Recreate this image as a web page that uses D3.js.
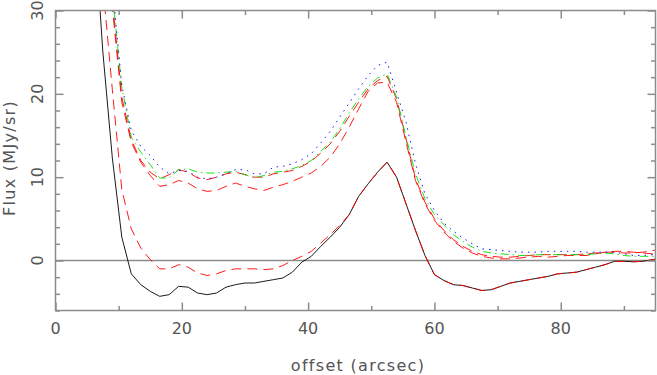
<!DOCTYPE html>
<html>
<head>
<meta charset="utf-8">
<script src="https://cdn.jsdelivr.net/npm/d3@7"></script>
<style>
  body { margin: 0; background: #fff; }
  text { font-family: "DejaVu Sans", sans-serif; fill: #555; }
</style>
</head>
<body>
<svg id="chartArea" width="657" height="375"></svg>
<script>
// offsets in arcsec (sample grid)
const offset = [6, 7.5, 9, 10.5, 12, 13.5, 15, 16.5, 18, 19.5, 21, 22.5, 24, 25.5, 27, 28.5, 30, 31.5, 33, 34.5,
  36, 37.5, 39, 40.5, 42, 43.5, 45, 46.5, 48, 49.5, 51, 52.5, 54, 55.5, 57, 58.5, 60, 61.5, 63, 64.5,
  66, 67.5, 69, 70.5, 72, 73.5, 75, 76.5, 78, 79.5, 81, 82.5, 84, 85.5, 87, 88.5, 90, 91.5, 93, 94.5, 96];

const fluxBlack = [42, 25, 12.3, 2.8, -1.6, -2.9, -3.7, -4.3, -4.1, -3.1, -3.2, -3.9, -4.1, -3.9, -3.2, -2.9, -2.7, -2.7, -2.5, -2.3,
  -2.1, -1.4, -0.2, 0.5, 1.7, 2.8, 4.0, 5.5, 7.7, 9.2, 10.6, 11.8, 10.0, 6.8, 3.6, 0.6, -1.7, -2.4, -2.9, -3.0,
  -3.3, -3.6, -3.5, -3.1, -2.7, -2.5, -2.3, -2.1, -1.9, -1.6, -1.5, -1.4, -1.1, -0.8, -0.5, -0.1, -0.1, -0.15, -0.1, 0.1, 0.3];

const fluxRedLow = [48, 33, 20.5, 8.5, 3.8, 1.5, 0.1, -1.0, -1.0, -0.5, -0.8, -1.5, -1.8, -1.6, -1.2, -1.0, -1.0, -1.0, -1.1, -1.0,
  -0.6, 0.0, 0.5, 1.1, 2.1, 3.1, 4.2, 5.5, 7.7, 9.2, 10.6, 11.8, 10.0, 6.8, 3.6, 0.6, -1.7, -2.4, -2.9, -3.0,
  -3.3, -3.6, -3.5, -3.1, -2.7, -2.5, -2.3, -2.1, -1.9, -1.6, -1.5, -1.4, -1.1, -0.8, -0.5, -0.1, -0.1, -0.15, -0.1, 0.1, 0.3];

const fluxRedB = [52, 38, 30.4, 19.0, 14.2, 11.8, 10.2, 8.9, 9.1, 9.6, 9.3, 8.6, 8.3, 8.4, 8.9, 9.3, 8.9, 8.6, 8.4, 8.8,
  9.1, 9.5, 10.0, 10.5, 11.3, 12.4, 14.0, 16.0, 18.2, 20.3, 21.3, 21.4, 19.0, 14.2, 9.6, 6.8, 4.8, 3.4, 2.3, 1.5,
  0.9, 0.5, 0.3, 0.2, 0.2, 0.3, 0.4, 0.5, 0.4, 0.5, 0.6, 0.6, 0.6, 0.8, 1.0, 1.1, 1.1, 1.0, 0.9, 0.8, 0.8];

const fluxRedA = [54, 40, 31.2, 19.6, 14.5, 12.0, 10.6, 9.8, 10.3, 10.9, 10.6, 9.9, 9.7, 10.0, 10.4, 10.6, 10.3, 10.0, 10.0, 10.4,
  10.6, 10.8, 11.3, 11.9, 12.9, 14.0, 15.5, 17.3, 19.0, 20.6, 21.6, 22.1, 19.4, 14.6, 9.8, 7.0, 5.0, 3.6, 2.5, 1.7,
  1.1, 0.7, 0.5, 0.4, 0.4, 0.5, 0.6, 0.7, 0.7, 0.7, 0.7, 0.7, 0.8, 0.9, 1.0, 1.0, 0.9, 0.9, 1.0, 1.2, 1.3];

const fluxGreen = [55, 42, 32, 20.8, 14.8, 13.0, 11.5, 9.9, 9.9, 10.9, 11.0, 10.6, 10.5, 10.5, 10.6, 10.7, 10.3, 9.9, 10.2, 10.6,
  10.7, 11.0, 11.4, 12.0, 13.1, 14.2, 15.8, 17.7, 19.4, 20.9, 21.9, 22.4, 19.6, 14.8, 10.4, 7.4, 5.5, 4.3, 3.1, 2.3,
  1.6, 1.1, 0.9, 0.8, 0.7, 0.6, 0.6, 0.7, 0.7, 0.7, 0.7, 0.7, 0.7, 0.8, 0.9, 0.8, 0.6, 0.5, 0.5, 0.5, 0.5];

const fluxBlue = [57, 45, 33, 21.0, 15.6, 13.7, 12.6, 11.2, 10.4, 10.8, 10.7, 10.0, 9.8, 10.0, 10.4, 10.9, 10.9, 10.4, 10.4, 11.2,
  11.3, 11.6, 12.1, 12.8, 14.1, 15.5, 17.2, 18.9, 20.6, 22.2, 23.4, 23.8, 20.2, 16.6, 11.6, 8.0, 6.0, 4.5, 3.5, 2.7,
  2.0, 1.4, 1.3, 1.2, 1.1, 1.0, 1.0, 1.0, 1.1, 1.1, 1.1, 1.1, 1.0, 1.0, 1.0, 1.0, 0.8, 0.6, 0.6, 0.7, 0.8];

const xMajor = [0, 20, 40, 60, 80];
const xMinor = [10, 30, 50, 70, 90];
const yMajor = [0, 10, 20, 30];
const yMinor = [-6, -4, -2, 2, 4, 6, 8, 12, 14, 16, 18, 22, 24, 26, 28];

const svg = d3.select("#chartArea");
const frame = {left: 55.5, right: 655.5, top: 10.5, bottom: 310.5};

const scaleX = d3.scaleLinear().domain([0, 95]).range([frame.left, frame.right]);
const scaleY = d3.scaleLinear().domain([-6, 30]).range([frame.bottom, frame.top]);

svg.append("clipPath").attr("id", "plotClip")
  .append("rect")
  .attr("x", frame.left).attr("y", frame.top)
  .attr("width", frame.right - frame.left).attr("height", frame.bottom - frame.top);

// zero line
svg.append("line")
  .attr("x1", frame.left).attr("x2", frame.right)
  .attr("y1", scaleY(0)).attr("y2", scaleY(0))
  .attr("stroke", "#8c8c8c").attr("stroke-width", 1.5);

const series = [
  {vals: fluxBlack, color: "#000", dash: null},
  {vals: fluxRedLow, color: "#ff0000", dash: "10,6"},
  {vals: fluxRedB, color: "#ff0000", dash: "10,6"},
  {vals: fluxRedA, color: "#ff0000", dash: "10,6"},
  {vals: fluxGreen, color: "#00e000", dash: "8,4,1.5,4"},
  {vals: fluxBlue, color: "#0000ff", dash: "1.5,5"}
];

const plotG = svg.append("g").attr("clip-path", "url(#plotClip)");
series.forEach(s => {
  const lineGen = d3.line()
    .x((d, i) => scaleX(offset[i]))
    .y(d => scaleY(d));
  plotG.append("path")
    .datum(s.vals)
    .attr("fill", "none")
    .attr("stroke", s.color)
    .attr("stroke-width", 0.9)
    .attr("stroke-dasharray", s.dash)
    .attr("d", lineGen);
});

// ticks on all four sides, pointing inward
function tickAxis(axis, values, size, transform) {
  const g = svg.append("g").attr("transform", transform)
    .call(axis.tickValues(values).tickSize(size).tickFormat(""));
  g.select(".domain").remove();
  g.selectAll("line").attr("stroke", "#8c8c8c").attr("stroke-width", 1.5);
}
tickAxis(d3.axisBottom(scaleX), xMajor, -8, `translate(0,${frame.bottom})`);
tickAxis(d3.axisBottom(scaleX), xMinor, -4.5, `translate(0,${frame.bottom})`);
tickAxis(d3.axisTop(scaleX), xMajor, -8, `translate(0,${frame.top})`);
tickAxis(d3.axisTop(scaleX), xMinor, -4.5, `translate(0,${frame.top})`);
tickAxis(d3.axisLeft(scaleY), yMajor, -8, `translate(${frame.left},0)`);
tickAxis(d3.axisLeft(scaleY), yMinor, -4.5, `translate(${frame.left},0)`);
tickAxis(d3.axisRight(scaleY), yMajor, -8, `translate(${frame.right},0)`);
tickAxis(d3.axisRight(scaleY), yMinor, -4.5, `translate(${frame.right},0)`);

// frame
svg.append("rect")
  .attr("x", frame.left).attr("y", frame.top)
  .attr("width", frame.right - frame.left).attr("height", frame.bottom - frame.top)
  .attr("fill", "none").attr("stroke", "#8c8c8c").attr("stroke-width", 1.5);

// tick labels
svg.selectAll(".xlab").data(xMajor).enter().append("text")
  .attr("x", d => scaleX(d)).attr("y", 333.5)
  .attr("text-anchor", "middle").style("font-size", "16px")
  .text(d => d);

svg.selectAll(".ylab").data(yMajor).enter().append("text")
  .attr("transform", d => `translate(43,${scaleY(d)}) rotate(-90)`)
  .attr("text-anchor", "middle").style("font-size", "16px")
  .text(d => d);

// axis titles
svg.append("text")
  .attr("x", 358).attr("y", 370.5)
  .attr("text-anchor", "middle").style("font-size", "16px")
  .style("letter-spacing", "1.3px")
  .text("offset (arcsec)");

svg.append("text")
  .attr("transform", "translate(15,158) rotate(-90)")
  .attr("text-anchor", "middle").style("font-size", "16px")
  .style("letter-spacing", "1.3px")
  .text("Flux (MJy/sr)");
</script>
</body>
</html>
